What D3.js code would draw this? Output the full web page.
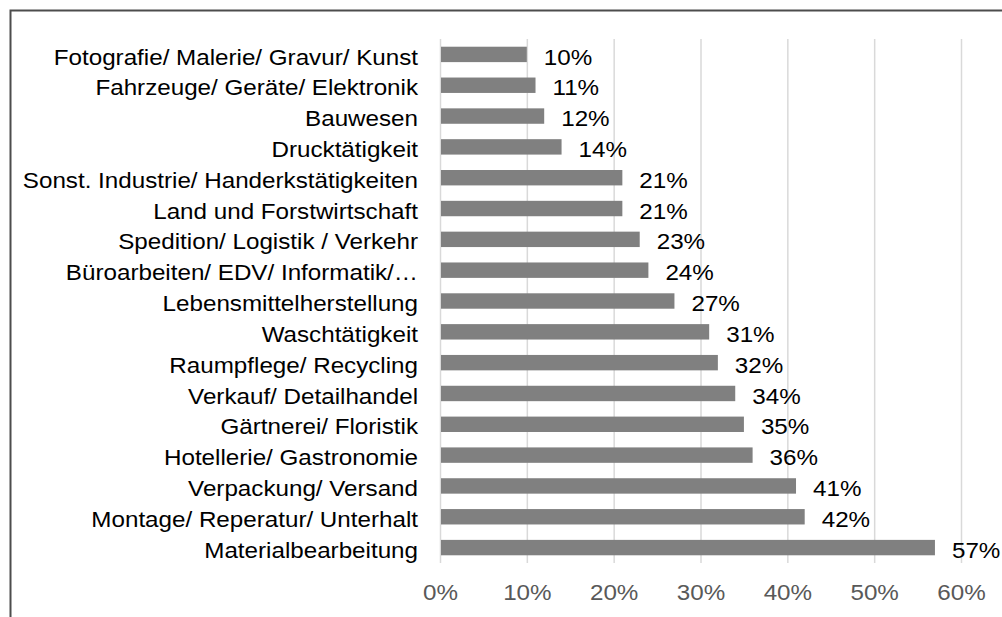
<!DOCTYPE html>
<html>
<head>
<meta charset="utf-8">
<script src="https://cdn.jsdelivr.net/npm/d3@7"></script>
<style>
  body { margin: 0; background: #fff; }
  text { font-family: "Liberation Sans", Arial, sans-serif; }
</style>
</head>
<body>
<div id="chart"></div>
<script>
var categories = ["Fotografie/ Malerie/ Gravur/ Kunst", "Fahrzeuge/ Geräte/ Elektronik", "Bauwesen",
                  "Drucktätigkeit", "Sonst. Industrie/ Handerkstätigkeiten", "Land und Forstwirtschaft",
                  "Spedition/ Logistik / Verkehr", "Büroarbeiten/ EDV/ Informatik/…", "Lebensmittelherstellung",
                  "Waschtätigkeit", "Raumpflege/ Recycling", "Verkauf/ Detailhandel", "Gärtnerei/ Floristik",
                  "Hotellerie/ Gastronomie", "Verpackung/ Versand", "Montage/ Reperatur/ Unterhalt",
                  "Materialbearbeitung"];
var values = [0.10, 0.11, 0.12, 0.14, 0.21, 0.21, 0.23, 0.24, 0.27, 0.31, 0.32, 0.34, 0.35, 0.36, 0.41, 0.42, 0.57];
var ticks = [0, 0.1, 0.2, 0.3, 0.4, 0.5, 0.6];

var width = 1002;
var height = 617;
var plot = {left: 440, right: 961, top: 39, bottom: 563};
var stretch = "scale(1.1,1)";  // the reference text is a bit wide
var fontSize = "22px";

var x = d3.scaleLinear()
          .domain([0, 0.6])
          .range([plot.left, plot.right]);

var y = d3.scaleBand()
          .domain(categories)
          .range([plot.top, plot.bottom])
          .paddingInner(0.5)
          .paddingOuter(0.25);

var svg = d3.select("#chart")
            .append("svg")
            .attr("width", width)
            .attr("height", height);

// outer frame, only top and left edges visible
svg.append("rect")
   .attr("x", 10.5)
   .attr("y", 10.5)
   .attr("width", 1100)
   .attr("height", 800)
   .style("fill", "none")
   .style("stroke", "#4d4d4d")
   .style("stroke-width", 2);

// gridlines
var grid = svg.append("g")
              .attr("transform", "translate(0," + plot.bottom + ")")
              .call(d3.axisBottom(x).tickValues(ticks).tickSize(-(plot.bottom - plot.top)).tickFormat(""));
grid.select(".domain").remove();
grid.selectAll("line")
    .style("stroke", "#d9d9d9")
    .style("stroke-width", 1.5);

// bars
svg.selectAll("rect.bar")
   .data(values)
   .enter()
   .append("rect")
   .attr("class", "bar")
   .attr("x", x(0) + 1)
   .attr("y", (d, i) => y(categories[i]))
   .attr("width", d => x(d) - x(0) - 1)
   .attr("height", y.bandwidth())
   .style("fill", "#808080");

// value labels
svg.selectAll("g.val")
   .data(values)
   .enter()
   .append("g")
   .attr("class", "val")
   .attr("transform", (d, i) => "translate(" + (x(d) + 17) + "," + (y(categories[i]) + y.bandwidth() / 2) + ")")
   .append("text")
   .attr("transform", stretch)
   .attr("dy", "0.46em")
   .style("font-size", fontSize)
   .style("fill", "#000")
   .text(d => Math.round(d * 100) + "%");

// category axis
var yAxis = svg.append("g")
               .attr("transform", "translate(" + plot.left + ",0)")
               .call(d3.axisLeft(y).tickSize(0).tickPadding(20));
yAxis.select(".domain").remove();
yAxis.selectAll("text")
     .attr("transform", stretch)
     .attr("dy", "0.46em")
     .style("font-size", fontSize)
     .style("font-family", "'Liberation Sans', Arial, sans-serif")
     .style("fill", "#000");

// percent axis
var xAxis = svg.append("g")
               .attr("transform", "translate(0," + plot.bottom + ")")
               .call(d3.axisBottom(x).tickValues(ticks).tickSize(0).tickPadding(21).tickFormat(d3.format(".0%")));
xAxis.select(".domain").remove();
xAxis.selectAll("text")
     .attr("transform", stretch)
     .style("font-size", fontSize)
     .style("font-family", "'Liberation Sans', Arial, sans-serif")
     .style("fill", "#595959");
</script>
</body>
</html>
